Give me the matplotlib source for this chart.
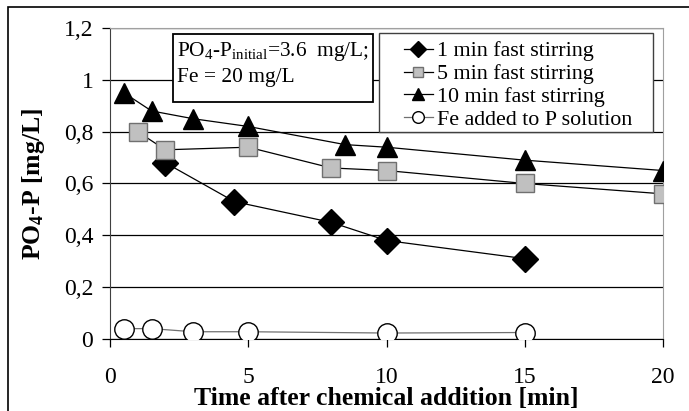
import matplotlib.pyplot as plt
import matplotlib
from matplotlib.patches import Rectangle
from matplotlib.ticker import FuncFormatter

matplotlib.rcParams["font.family"] = ["Liberation Serif", "DejaVu Serif"]
matplotlib.rcParams["mathtext.fontset"] = "custom"
matplotlib.rcParams["mathtext.rm"] = "Liberation Serif"
matplotlib.rcParams["mathtext.it"] = "Liberation Serif:italic"
matplotlib.rcParams["mathtext.bf"] = "Liberation Serif:bold"

# --- data ---
t_1min = [2, 4.5, 8, 10, 15]
p_1min = [0.68, 0.53, 0.45, 0.38, 0.31]

t_5min = [1, 2, 5, 8, 10, 15, 20]
p_5min = [0.80, 0.73, 0.74, 0.66, 0.65, 0.60, 0.56]

t_10min = [0.5, 1.5, 3, 5, 8.5, 10, 15, 20]
p_10min = [0.95, 0.88, 0.85, 0.82, 0.75, 0.74, 0.69, 0.65]

t_fe = [0.5, 1.5, 3, 5, 10, 15]
p_fe = [0.04, 0.04, 0.028, 0.028, 0.023, 0.025]

fig = plt.figure(figsize=(6.89, 4.11), dpi=100)
ax = fig.add_axes([0.1597, 0.1752, 0.8026, 0.7567])

# outer frame (only top/left visible in the reference)
fig.patches.append(Rectangle((8 / 689, -0.05), 1.2, 1 - 7 / 411 + 0.05,
                             transform=fig.transFigure, fill=False,
                             edgecolor="black", linewidth=1.2))

ax.plot(t_1min, p_1min, color="black", lw=0.9, marker="D", markersize=13,
        markerfacecolor="black", markeredgecolor="black", label="1 min fast stirring", zorder=3)
ax.plot(t_5min, p_5min, color="black", lw=0.9, marker="s", markersize=13,
        markerfacecolor="#c0c0c0", markeredgecolor="#707070", label="5 min fast stirring", zorder=3)
ax.plot(t_10min, p_10min, color="black", lw=0.9, marker="^", markersize=15,
        markerfacecolor="black", markeredgecolor="black", label="10 min fast stirring", zorder=3)
ax.plot(t_fe, p_fe, color="#707070", lw=0.9, marker="o", markersize=14,
        markerfacecolor="white", markeredgecolor="black", label="Fe added to P solution", zorder=3)

ax.set_xlim(0, 20)
ax.set_ylim(0, 1.2)
ax.set_xticks([0, 5, 10, 15, 20])
ax.set_yticks([0, 0.2, 0.4, 0.6, 0.8, 1.0, 1.2])
ax.yaxis.set_major_formatter(FuncFormatter(lambda v, p: f"{v:g}".replace(".", ",")))
ax.grid(axis="y", color="black", lw=0.9)
ax.set_axisbelow(True)

ax.tick_params(axis="both", direction="out", length=6, width=0.9, labelsize=17, pad=6)
ax.tick_params(axis="x", pad=14)
ax.spines["left"].set_color("#404040")
ax.spines["bottom"].set_color("black")
ax.spines["top"].set_color("#a0a0a0")
ax.spines["right"].set_color("#a0a0a0")

ax.set_xlabel("Time after chemical addition [min]", fontsize=18.5, fontweight="bold", labelpad=-0.5)
ax.set_ylabel("PO$_\\mathbf{4}$-P [mg/L]", fontsize=18.5, fontweight="bold", labelpad=12)

# info box
ax.add_patch(Rectangle((0.114, 0.762), 0.362, 0.219, transform=ax.transAxes,
                       facecolor="white", edgecolor="black", lw=1.3, zorder=4))
ax.text(0.121, 0.910, "PO$_4$-P$_{\\mathrm{initial}}$=3.6  mg/L;", transform=ax.transAxes,
        fontsize=15.4, va="baseline", ha="left", zorder=5)
ax.text(0.121, 0.826, "Fe = 20 mg/L", transform=ax.transAxes,
        fontsize=15.4, va="baseline", ha="left", zorder=5)

# legend box
ax.add_patch(Rectangle((0.486, 0.666), 0.495, 0.318, transform=ax.transAxes,
                       facecolor="white", edgecolor="#404040", lw=1.0, zorder=4))
leg = ax.legend(loc="upper left", bbox_to_anchor=(0.532, 0.958), fontsize=15.8,
                frameon=False, handlelength=1.3, handletextpad=0.2, labelspacing=0.11,
                borderpad=0, markerscale=0.6, borderaxespad=0)
leg.set_zorder(6)

fig.savefig("out.png", dpi=100)
